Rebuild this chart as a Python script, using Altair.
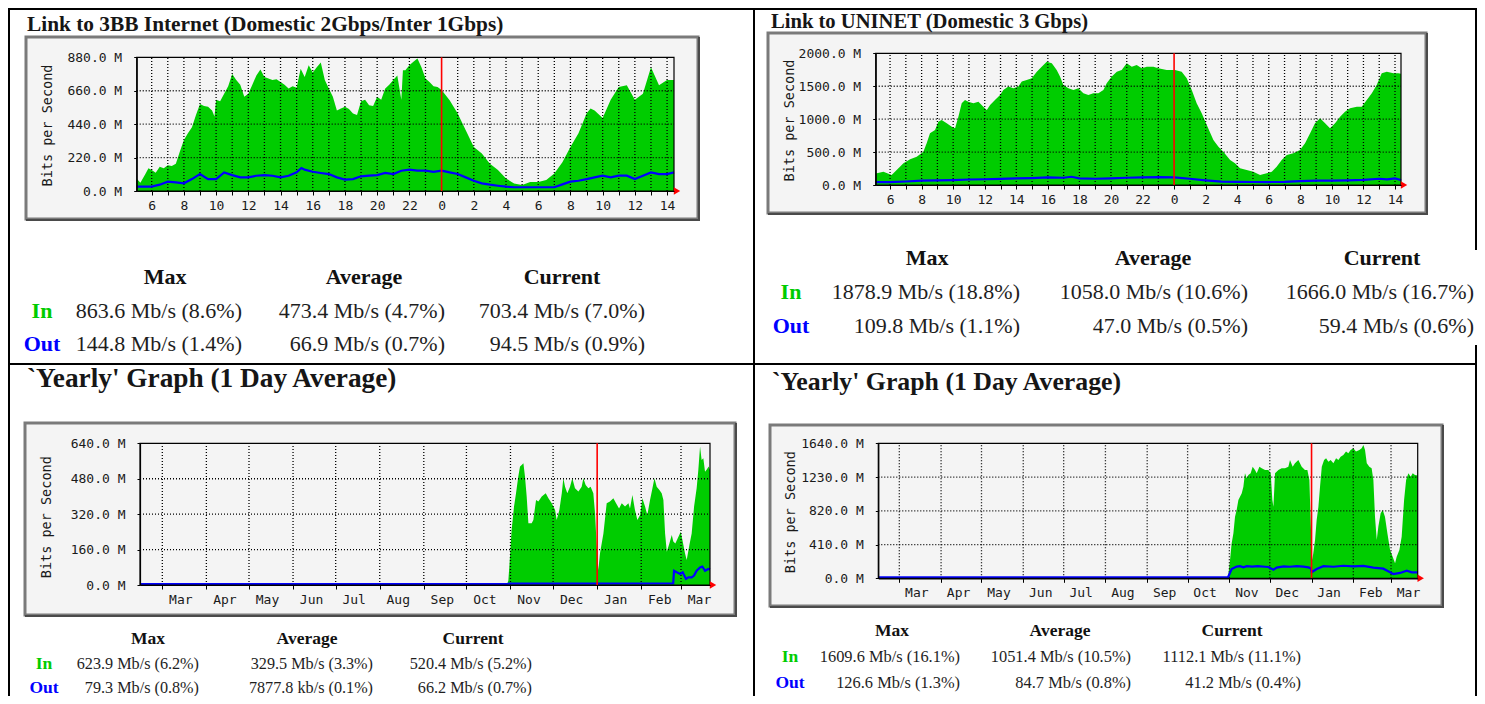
import altair as alt
import pandas as pd

# ------------------------------------------------------------------ data
TL_TITLE = "Link to 3BB Internet (Domestic 2Gbps/Inter 1Gbps)"
TR_TITLE = "Link to UNINET (Domestic 3 Gbps)"
YEARLY_TITLE = "`Yearly' Graph (1 Day Average)"
Y_TITLE = "Bits per Second"

HEADERS = ["Max", "Average", "Current"]
ROW_LABELS = ["In", "Out"]

TL_IN_STATS = ["863.6 Mb/s (8.6%)", "473.4 Mb/s (4.7%)", "703.4 Mb/s (7.0%)"]
TL_OUT_STATS = ["144.8 Mb/s (1.4%)", "66.9 Mb/s (0.7%)", "94.5 Mb/s (0.9%)"]
TR_IN_STATS = ["1878.9 Mb/s (18.8%)", "1058.0 Mb/s (10.6%)", "1666.0 Mb/s (16.7%)"]
TR_OUT_STATS = ["109.8 Mb/s (1.1%)", "47.0 Mb/s (0.5%)", "59.4 Mb/s (0.6%)"]
BL_IN_STATS = ["623.9 Mb/s (6.2%)", "329.5 Mb/s (3.3%)", "520.4 Mb/s (5.2%)"]
BL_OUT_STATS = ["79.3 Mb/s (0.8%)", "7877.8 kb/s (0.1%)", "66.2 Mb/s (0.7%)"]
BR_IN_STATS = ["1609.6 Mb/s (16.1%)", "1051.4 Mb/s (10.5%)", "1112.1 Mb/s (11.1%)"]
BR_OUT_STATS = ["126.6 Mb/s (1.3%)", "84.7 Mb/s (0.8%)", "41.2 Mb/s (0.4%)"]

# hours run past midnight (24 = 0h of the next day)
HOUR_TICKS = [6, 7, 8, 9, 10, 11, 12, 13, 14, 15, 16, 17, 18, 19, 20, 21, 22, 23,
              24, 25, 26, 27, 28, 29, 30, 31, 32, 33, 34, 35, 36, 37, 38]
MONTH_STARTS = [0, 31, 61, 92, 122, 153, 184, 214, 245, 275, 306, 337, 365]
MONTH_LABELS = ["Mar", "Apr", "May", "Jun", "Jul", "Aug", "Sep", "Oct", "Nov", "Dec", "Jan", "Feb", "Mar"]

TL_X_DOMAIN = [5.07, 38.43]
TR_X_DOMAIN = [5.09, 38.38]
BL_X_DOMAIN = [-15.7, 385.4]
BR_X_DOMAIN = [-15.6, 384.8]
TL_Y_TICKS = [0, 220, 440, 660, 880]
TR_Y_TICKS = [0, 500, 1000, 1500, 2000]
BL_Y_TICKS = [0, 160, 320, 480, 640]
BR_Y_TICKS = [0, 410, 820, 1230, 1640]
DAILY_MIDNIGHT = 24
YEAR_START = 306

TL_IN_HOURS = [5.07, 5.3, 5.6, 5.8, 6.0, 6.25, 6.5, 6.75, 7.0, 7.25,
               7.5, 7.75, 8.0, 8.25, 8.5, 8.75, 9.0, 9.25, 9.5, 9.75,
               9.9, 10.0, 10.25, 10.5, 10.75, 11.0, 11.25, 11.5, 11.75, 12.0,
               12.25, 12.5, 12.75, 13.0, 13.25, 13.5, 13.75, 14.0, 14.25, 14.5,
               14.75, 15.0, 15.25, 15.5, 15.75, 16.0, 16.25, 16.5, 16.75, 17.0,
               17.25, 17.5, 17.75, 18.0, 18.25, 18.5, 18.75, 19.0, 19.25, 19.5,
               19.75, 20.0, 20.25, 20.5, 20.75, 21.0, 21.25, 21.5, 21.6, 21.75,
               22.0, 22.25, 22.5, 22.75, 23.0, 23.25, 23.5, 23.75, 24.0, 24.5,
               25.0, 25.5, 26.0, 26.5, 27.0, 27.5, 28.0, 28.5, 29.0, 29.5,
               30.0, 30.5, 31.0, 31.5, 32.0, 32.5, 33.0, 33.25, 33.5, 34.0,
               34.5, 35.0, 35.5, 36.0, 36.5, 37.0, 37.5, 38.0, 38.43]
TL_IN_VALUES = [80, 55, 110, 150, 138, 120, 160, 150, 170, 165,
                180, 260, 335, 380, 420, 500, 572, 560, 555, 530,
                490, 600, 590, 640, 690, 770, 730, 700, 620, 640,
                700, 760, 800, 750, 740, 730, 735, 718, 700, 675,
                690, 680, 805, 750, 828, 780, 815, 845, 730, 675,
                620, 530, 543, 555, 540, 510, 500, 590, 600, 565,
                560, 620, 600, 675, 700, 730, 760, 600, 795, 795,
                828, 850, 872, 815, 740, 718, 690, 685, 664, 598,
                510, 400, 290, 247, 180, 138, 83, 50, 40, 60,
                60, 72, 116, 190, 290, 380, 510, 543, 530, 480,
                600, 685, 696, 600, 640, 815, 696, 730, 730]
TL_OUT_HOURS = [5.07, 6.0, 6.5, 7.0, 7.5, 8.0, 8.5, 9.0, 9.5, 10.0,
                10.5, 11.0, 11.5, 12.0, 12.5, 13.0, 13.5, 14.0, 14.5, 15.0,
                15.3, 15.5, 16.0, 16.5, 17.0, 17.5, 18.0, 18.5, 19.0, 19.5,
                20.0, 20.5, 21.0, 21.5, 22.0, 22.5, 23.0, 23.5, 24.0, 24.5,
                25.0, 25.5, 26.0, 26.5, 27.0, 27.5, 28.0, 28.5, 29.0, 30.0,
                31.0, 31.5, 32.0, 32.5, 33.0, 33.5, 34.0, 34.5, 35.0, 35.5,
                36.0, 36.5, 37.0, 37.5, 38.0, 38.43]
TL_OUT_VALUES = [22, 22, 35, 55, 50, 44, 72, 105, 72, 72,
                 116, 98, 83, 83, 94, 98, 94, 83, 94, 116,
                 145, 134, 120, 112, 105, 83, 68, 72, 90, 94,
                 98, 112, 105, 127, 134, 127, 127, 120, 127, 116,
                 105, 83, 61, 44, 35, 28, 22, 18, 18, 18,
                 18, 37, 55, 61, 72, 83, 94, 83, 94, 94,
                 72, 94, 116, 105, 105, 116]

TR_IN_HOURS = [5.09, 5.16, 5.58, 6.1, 6.42, 6.85, 7.27, 7.69, 8.11, 8.32,
               8.53, 8.85, 9.06, 9.27, 9.59, 9.91, 10.12, 10.33, 10.54, 10.75,
               10.96, 11.28, 11.6, 11.91, 12.13, 12.34, 12.65, 12.97, 13.18, 13.5,
               13.81, 14.13, 14.35, 14.66, 14.98, 15.3, 15.61, 15.93, 16.25, 16.56,
               16.77, 16.98, 17.3, 17.62, 17.93, 18.25, 18.57, 18.88, 19.2, 19.52,
               19.73, 20.05, 20.37, 20.68, 21.0, 21.32, 21.63, 21.95, 22.27, 22.69,
               23.0, 23.53, 24.06, 24.48, 24.8, 25.12, 25.43, 25.75, 26.07, 26.49,
               26.81, 27.12, 27.55, 27.86, 28.18, 28.6, 29.02, 29.45, 29.87, 30.19,
               30.5, 30.82, 31.14, 31.56, 31.98, 32.3, 32.62, 32.93, 33.25, 33.57,
               33.88, 34.2, 34.52, 34.83, 35.15, 35.58, 35.89, 36.21, 36.53, 36.84,
               37.16, 37.48, 37.9, 38.21, 38.38]
TR_IN_VALUES = [177, 177, 200, 152, 228, 329, 390, 430, 506, 633,
                785, 835, 962, 987, 937, 886, 861, 1038, 1240, 1291,
                1266, 1240, 1266, 1190, 1139, 1215, 1291, 1367, 1443, 1494,
                1468, 1494, 1570, 1595, 1620, 1721, 1797, 1873, 1848, 1747,
                1646, 1519, 1468, 1443, 1468, 1392, 1367, 1392, 1392, 1443,
                1544, 1646, 1721, 1747, 1848, 1797, 1823, 1772, 1797, 1797,
                1772, 1747, 1747, 1721, 1620, 1443, 1240, 1089, 911, 684,
                582, 506, 380, 329, 253, 228, 203, 152, 177, 203,
                278, 380, 456, 481, 532, 633, 785, 937, 1013, 937,
                861, 937, 1038, 1114, 1165, 1190, 1190, 1291, 1392, 1519,
                1696, 1721, 1696, 1696, 1690]
TR_OUT_HOURS = [5.09, 6, 7, 8, 9, 10, 11, 12, 13, 14,
                15, 16, 17, 17.5, 18, 19, 20, 21, 22, 23,
                24, 25, 26, 27, 28, 29, 30, 31, 32, 33,
                34, 35, 36, 37, 37.5, 38, 38.38]
TR_OUT_VALUES = [30, 30, 38, 50, 55, 60, 68, 72, 78, 85,
                 90, 100, 95, 110, 85, 80, 85, 95, 100, 105,
                 100, 80, 55, 35, 32, 30, 30, 32, 45, 50,
                 52, 55, 62, 80, 70, 85, 60]

# yearly graphs: day index, 0 = 1 Mar of the first year
BL_IN_DAYS = [-15.7, 242.5, 243.5, 244.2, 245.8, 247.5, 248.9, 250.5, 251.7, 252.9,
              254.1, 255.2, 256.4, 257.6, 259.9, 261.1, 263.0, 264.6, 267.0, 269.8,
              271.7, 274.0, 276.4, 277.5, 279.4, 281.1, 282.2, 283.4, 285.0, 286.9,
              288.5, 290.4, 292.8, 295.1, 296.3, 297.9, 299.8, 301.4, 303.3, 304.5,
              305.7, 306.8, 308.0, 310.4, 312.7, 315.0, 317.4, 319.3, 321.4, 323.3,
              325.6, 328.0, 329.1, 330.8, 332.6, 334.3, 336.2, 337.8, 339.7, 341.3,
              343.2, 344.9, 346.3, 347.9, 349.8, 351.4, 352.6, 353.8, 355.0, 356.8,
              358.5, 359.6, 361.0, 363.2, 364.8, 366.2, 367.8, 369.0, 370.9, 372.5,
              374.2, 376.0, 377.2, 378.4, 379.5, 380.7, 381.9, 383.0, 384.5, 385.4]
BL_IN_VALUES = [0, 0, 20, 83, 248, 354, 414, 490, 535, 542,
                550, 490, 400, 279, 279, 294, 384, 377, 400, 414,
                392, 369, 339, 294, 339, 414, 482, 444, 414, 444,
                482, 437, 422, 444, 482, 452, 437, 444, 414, 324,
                173, 68, 143, 233, 369, 377, 392, 369, 346, 369,
                354, 369, 346, 407, 339, 294, 316, 392, 354, 316,
                384, 437, 482, 444, 429, 414, 384, 233, 150, 188,
                226, 196, 188, 218, 241, 196, 143, 113, 181, 233,
                354, 437, 520, 625, 565, 572, 512, 520, 535, 520]
BL_OUT_DAYS = [-15.7, 243.0, 244.0, 359.5, 360.1, 362.0, 364.3, 366.2, 368.5, 370.2,
               372.5, 374.2, 376.0, 378.4, 380.0, 381.9, 384.2, 385.4]
BL_OUT_VALUES = [0, 0, 2, 3, 60, 53, 45, 53, 23, 30,
                 30, 38, 60, 75, 79, 60, 68, 66]

BR_IN_DAYS = [-15.6, 243.5, 244.2, 245.5, 246.7, 248.0, 249.2, 250.4, 251.7, 252.9,
              254.2, 255.4, 256.6, 257.9, 259.1, 260.8, 262.3, 264.0, 265.3, 267.3,
              269.0, 271.5, 273.9, 275.7, 276.9, 277.7, 278.9, 281.4, 283.8, 286.3,
              288.8, 290.0, 292.0, 293.7, 296.2, 298.7, 301.1, 302.9, 304.4, 305.4,
              306.4, 307.3, 308.6, 309.8, 311.1, 312.3, 313.6, 315.3, 316.8, 318.5,
              320.2, 322.2, 324.2, 325.9, 327.6, 329.6, 331.6, 333.3, 335.0, 337.0,
              339.0, 341.5, 343.2, 344.5, 345.7, 347.0, 348.9, 350.6, 351.9, 353.1,
              354.4, 355.6, 357.3, 358.8, 360.5, 362.3, 364.3, 366.2, 368.0, 369.2,
              371.2, 372.9, 374.7, 376.2, 377.9, 379.6, 381.1, 382.8, 384.8]
BR_IN_VALUES = [0, 0, 40, 223, 425, 547, 749, 830, 951, 992,
                1032, 1113, 1275, 1215, 1255, 1275, 1356, 1316, 1275, 1356,
                1336, 1316, 1316, 1275, 951, 870, 1275, 1316, 1336, 1336,
                1356, 1437, 1356, 1397, 1437, 1356, 1316, 1316, 1194, 668,
                223, 304, 466, 709, 870, 1113, 1356, 1437, 1458, 1417,
                1437, 1397, 1458, 1437, 1478, 1498, 1539, 1518, 1559, 1579,
                1539, 1559, 1579, 1620, 1559, 1397, 1356, 1336, 1194, 749,
                466, 628, 790, 830, 749, 547, 344, 263, 182, 263,
                344, 506, 951, 1194, 1275, 1235, 1275, 1255, 1250]
BR_OUT_DAYS = [-15.6, 244.0, 246.7, 250.4, 252.9, 255.4, 257.9, 262.0, 266.0, 271.5,
               273.9, 277.7, 280.1, 285.3, 290.0, 295.0, 300.0, 303.7, 305.4, 306.1,
               309.8, 314.8, 322.2, 329.6, 337.0, 344.5, 351.9, 359.3, 364.3, 366.7,
               371.7, 376.7, 380.4, 384.8]
BR_OUT_VALUES = [0, 0, 101, 130, 135, 121, 135, 130, 135, 128,
                 125, 93, 118, 132, 128, 135, 130, 120, 110, 61,
                 101, 135, 128, 140, 132, 138, 118, 105, 61, 40,
                 53, 81, 61, 60]

# ------------------------------------------------------------------ layout (page px)
W, H = 1469, 688
M = 8


def cx(x):
    return x - M


def cy(y):
    return y - M


SERIF = "Liberation Serif, Times New Roman, Times, Tinos, Nimbus Roman, DejaVu Serif, serif"
MONO = "DejaVu Sans Mono"
GREEN = "#00cc00"
BLUE = "#0000ff"
RED = "#ff0000"
ONE = pd.DataFrame({"k": [0]})

LAYOUT = {
    "TL": dict(box=(26, 37, 698, 219), plot=(136.7, 57.3, 674, 191), ytitle=(47, 125),
               title=(27, 31, 21.35), lx=42, hy=277, oy=344, hx=[165, 364, 562],
               vx=[242, 445, 645], hs=22, vs=22, loff=0),
    "TR": dict(box=(768, 33, 1426, 213), plot=(875.7, 53.3, 1401, 185), ytitle=(789, 120),
               title=(771, 28.3, 20.6), lx=791, hy=258, oy=326, hx=[927, 1153, 1382],
               vx=[1020, 1248, 1474], hs=22, vs=22, loff=0),
    "BL": dict(box=(25, 423, 735, 615), plot=(140, 443.3, 710, 585), ytitle=(46.5, 516.7),
               title=(27, 386.7, 27.3), lx=44, hy=639, oy=688, hx=[148, 307, 473],
               vx=[199, 373, 532], hs=17.5, vs=16.2, loff=18),
    "BR": dict(box=(770, 425, 1442, 606), plot=(878.3, 443.3, 1417.7, 578.3), ytitle=(790, 511.7),
               title=(772, 390, 25.8), lx=790, hy=631, oy=683, hx=[892, 1060, 1232],
               vx=[960, 1131, 1301], hs=17.5, vs=16.4, loff=17),
}

HOUR_LABEL_EXPR = "datum.value % 2 == 0 ? '' + (datum.value % 24) : ''"
MONTH_LABEL_EXPR = ("[" + ",".join("'%s'" % m for m in MONTH_LABELS) + "][indexof(["
                    + ",".join(str(s) for s in MONTH_STARTS) + "], datum.value)]")


def graph(L, in_x, in_v, out_x, out_v, xdom, yticks, xticks, xlabel_expr, red_x):
    bx0, by0, bx1, by1 = L["box"]
    px0, py0, px1, py1 = L["plot"]
    ymax = yticks[-1]
    xs = alt.Scale(domain=list(xdom), range=[cx(px0), cx(px1)], nice=False, zero=False)
    ys = alt.Scale(domain=[0, ymax], range=[cy(py1), cy(py0)], nice=False, zero=False)
    xaxis = alt.Axis(orient="bottom", offset=cy(py1) - H, values=xticks, labelExpr=xlabel_expr,
                     grid=False, domain=True, domainColor="#000", domainWidth=1.2,
                     ticks=True, tickSize=4, tickColor="#000", tickWidth=1,
                     labelFont=MONO, labelFontSize=13, labelColor="#1a1a1a", labelPadding=4,
                     labelOffset=L["loff"], labelOverlap=False, labelFlush=False,
                     labelBound=False, labelAngle=0, title="", zindex=3)
    yaxis = alt.Axis(orient="left", offset=-cx(px0), values=yticks,
                     labelExpr="format(datum.value, '.1f') + ' M'",
                     grid=False, domain=True, domainColor="#000", domainWidth=1.2,
                     ticks=True, tickSize=3, tickColor="#000", tickWidth=1,
                     labelFont=MONO, labelFontSize=13, labelColor="#1a1a1a", labelPadding=12,
                     labelOverlap=False, labelFlush=False, labelBound=False,
                     title=Y_TITLE, titleX=L["ytitle"][0] - px0, titleY=cy(L["ytitle"][1]),
                     titleAngle=270, titleAlign="center", titleBaseline="middle",
                     titleFont=MONO, titleFontSize=13.5, titleFontWeight="normal",
                     titleColor="#1a1a1a", zindex=3)

    def X(f):
        return alt.X(f + ":Q", scale=xs, axis=xaxis)

    def Y(f):
        return alt.Y(f + ":Q", scale=ys, axis=yaxis)

    box = alt.Chart(ONE).mark_rect(fill="#f4f4f4", stroke="#7a7a7a", strokeWidth=3).encode(
        x=alt.value(cx(bx0)), x2=alt.value(cx(bx1)), y=alt.value(cy(by0)), y2=alt.value(cy(by1)))
    shadow_r = alt.Chart(ONE).mark_rule(color="#4a4a4a", strokeWidth=2).encode(
        x=alt.value(cx(bx1) + 1), y=alt.value(cy(by0)), y2=alt.value(cy(by1) + 2))
    shadow_b = alt.Chart(ONE).mark_rule(color="#4a4a4a", strokeWidth=2).encode(
        x=alt.value(cx(bx0)), x2=alt.value(cx(bx1) + 2), y=alt.value(cy(by1) + 1))

    in_df = pd.DataFrame({"h": in_x, "v": in_v})
    in_df["v0"] = 0
    area = alt.Chart(in_df).mark_area(color=GREEN, opacity=1, interpolate="linear").encode(
        x=X("h"), y=Y("v"), y2=alt.Y2("v0:Q"))

    vgrid = pd.DataFrame({"h": [t for t in xticks if xdom[0] < t < xdom[1] and t != red_x]})
    vgrid["v"] = 0
    vgrid["v2"] = ymax
    vg = alt.Chart(vgrid).mark_rule(color="#000", strokeWidth=1.3, strokeDash=[1, 2]).encode(
        x=X("h"), y=Y("v"), y2=alt.Y2("v2:Q"))

    hgrid = pd.DataFrame({"v": yticks[1:-1]})
    hgrid["h"] = xdom[0]
    hgrid["h2"] = xdom[1]
    hg = alt.Chart(hgrid).mark_rule(color="#000", strokeWidth=1.3, strokeDash=[1, 2]).encode(
        x=X("h"), x2=alt.X2("h2:Q"), y=Y("v"))

    out_df = pd.DataFrame({"h": out_x, "v": out_v})
    line = alt.Chart(out_df).mark_line(color=BLUE, strokeWidth=2.2, yOffset=-1).encode(
        x=X("h"), y=Y("v"))

    frame = alt.Chart(pd.DataFrame({"h": [xdom[0]], "h2": [xdom[1]], "v": [0], "v2": [ymax]})).mark_rect(
        fillOpacity=0, stroke="#000", strokeWidth=1.2).encode(
        x=X("h"), x2=alt.X2("h2:Q"), y=Y("v"), y2=alt.Y2("v2:Q"))

    red = alt.Chart(pd.DataFrame({"h": [red_x], "v": [0], "v2": [ymax]})).mark_rule(
        color=RED, strokeWidth=1.6).encode(x=X("h"), y=Y("v"), y2=alt.Y2("v2:Q"))

    arrow = alt.Chart(pd.DataFrame({"h": [xdom[1]], "v": [0]})).mark_point(
        shape="triangle-right", filled=True, color=RED, opacity=1, size=55, xOffset=3).encode(
        x=X("h"), y=Y("v"))

    return alt.layer(box, shadow_r, shadow_b, area, vg, hg, line, frame, red, arrow)


def title_text(txt, L):
    x, y, size = L["title"]
    return alt.Chart(pd.DataFrame({"t": [txt]})).mark_text(
        align="left", baseline="alphabetic", font=SERIF, fontSize=size, fontWeight="bold",
        color="#161616").encode(x=alt.value(cx(x)), y=alt.value(cy(y)), text="t:N")


def table(L, in_stats, out_stats):
    rs = alt.Scale(domain=[0, 2], range=[cy(L["hy"]), cy(L["oy"])], nice=False, zero=False)
    Yr = alt.Y("r:Q", scale=rs, axis=None)
    rows = pd.DataFrame({"r": [1, 2], "label": ROW_LABELS})
    layers = []
    for j in range(3):
        hdr = pd.DataFrame({"r": [0], "t": [HEADERS[j]]})
        layers.append(alt.Chart(hdr).mark_text(
            align="center", baseline="middle", font=SERIF, fontSize=L["hs"], fontWeight="bold",
            color="#111").encode(x=alt.value(cx(L["hx"][j])), y=Yr, text="t:N"))
        vals = pd.DataFrame({"r": [1, 2], "t": [in_stats[j], out_stats[j]]})
        layers.append(alt.Chart(vals).mark_text(
            align="right", baseline="middle", font=SERIF, fontSize=L["vs"],
            color="#1e1e1e").encode(x=alt.value(cx(L["vx"][j])), y=Yr, text="t:N"))
    layers.append(alt.Chart(rows).mark_text(
        align="center", baseline="middle", font=SERIF, fontSize=L["hs"], fontWeight="bold").encode(
        x=alt.value(cx(L["lx"])), y=Yr, text="label:N",
        color=alt.Color("label:N", scale=alt.Scale(domain=ROW_LABELS, range=[GREEN, BLUE]), legend=None)))
    return alt.layer(*layers)


def vline(x, y0, y1):
    return alt.Chart(ONE).mark_rule(color="#000", strokeWidth=2).encode(
        x=alt.value(cx(x)), y=alt.value(cy(y0)), y2=alt.value(cy(y1)))


def hline(y, x0, x1):
    return alt.Chart(ONE).mark_rule(color="#000", strokeWidth=2).encode(
        x=alt.value(cx(x0)), x2=alt.value(cx(x1)), y=alt.value(cy(y)))


panels = [
    graph(LAYOUT["TL"], TL_IN_HOURS, TL_IN_VALUES, TL_OUT_HOURS, TL_OUT_VALUES,
          TL_X_DOMAIN, TL_Y_TICKS, HOUR_TICKS, HOUR_LABEL_EXPR, DAILY_MIDNIGHT),
    graph(LAYOUT["TR"], TR_IN_HOURS, TR_IN_VALUES, TR_OUT_HOURS, TR_OUT_VALUES,
          TR_X_DOMAIN, TR_Y_TICKS, HOUR_TICKS, HOUR_LABEL_EXPR, DAILY_MIDNIGHT),
    graph(LAYOUT["BL"], BL_IN_DAYS, BL_IN_VALUES, BL_OUT_DAYS, BL_OUT_VALUES,
          BL_X_DOMAIN, BL_Y_TICKS, MONTH_STARTS, MONTH_LABEL_EXPR, YEAR_START),
    graph(LAYOUT["BR"], BR_IN_DAYS, BR_IN_VALUES, BR_OUT_DAYS, BR_OUT_VALUES,
          BR_X_DOMAIN, BR_Y_TICKS, MONTH_STARTS, MONTH_LABEL_EXPR, YEAR_START),
    table(LAYOUT["TL"], TL_IN_STATS, TL_OUT_STATS),
    table(LAYOUT["TR"], TR_IN_STATS, TR_OUT_STATS),
    table(LAYOUT["BL"], BL_IN_STATS, BL_OUT_STATS),
    table(LAYOUT["BR"], BR_IN_STATS, BR_OUT_STATS),
    title_text(TL_TITLE, LAYOUT["TL"]),
    title_text(TR_TITLE, LAYOUT["TR"]),
    title_text(YEARLY_TITLE, LAYOUT["BL"]),
    title_text(YEARLY_TITLE, LAYOUT["BR"]),
    vline(9, 8, 704), hline(9, 8, 1483), vline(754, 8, 704), hline(364, 8, 1483),
    vline(1476, 8, 250), vline(1476, 345, 704),
]

chart = alt.layer(*panels).resolve_scale(
    x="independent", y="independent").resolve_axis(
    x="independent", y="independent").properties(
    width=W, height=H, padding=0, autosize=alt.AutoSizeParams(type="none"),
    background="white").configure_view(strokeWidth=0)

chart.save("out.html", embed_options={"renderer": "svg", "actions": False})
